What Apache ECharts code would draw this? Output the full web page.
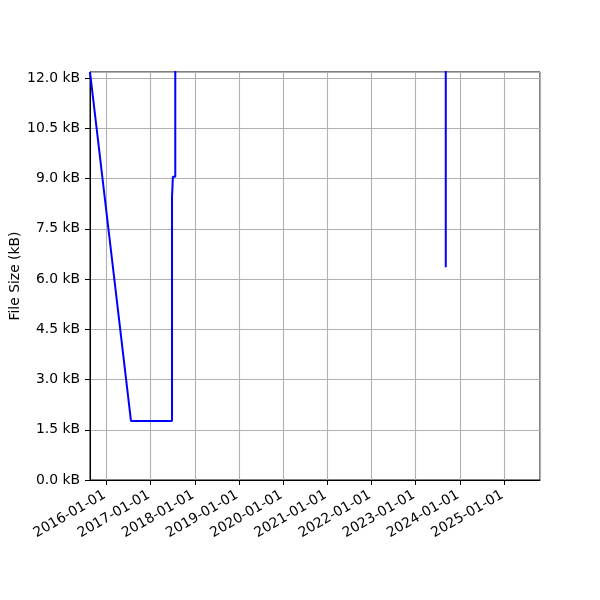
<!DOCTYPE html>
<html>
<head>
<meta charset="utf-8">
<script src="https://cdn.jsdelivr.net/npm/echarts@6/dist/echarts.min.js"></script>
<style>html,body{margin:0;padding:0;background:#fff;}#c{width:600px;height:600px;}</style>
</head>
<body>
<div id="c"></div>
<script>
// Dates of the file-size history
var dates = ['2015-08-19', '2016-07-23', '2017-06-27', '2017-06-27', '2017-07-04', '2017-07-04', '2017-07-24', '2017-07-24', '2023-09-07', '2023-09-07'];
// File size in kB (values above the visible range are clipped off the top)
var sizes = [12.18, 1.76, 1.76, 8.43, 8.43, 9.05, 9.05, 20.0, 20.0, 6.35];
// Axis ranges
var xRange = ['2015-08-19', '2025-10-25'];
var yRange = [0, 12.18];
var yStep = 1.5;

var FONT = 'DejaVu Sans';
var FS = 13.9;

var chart = echarts.init(document.getElementById('c'), null, {renderer: 'canvas'});
var data = dates.map(function (d, i) { return [d, sizes[i]]; });
var YEAR = 365 * 24 * 3600 * 1000;

chart.setOption({
  animation: false,
  useUTC: true,
  backgroundColor: '#ffffff',
  grid: {left: 90, right: 60, top: 72, bottom: 120, show: true, borderColor: '#000', borderWidth: 1, backgroundColor: 'transparent', containLabel: false, outerBoundsMode: 'none'},
  xAxis: {
    type: 'time',
    min: xRange[0],
    max: xRange[1],
    minInterval: YEAR,
    maxInterval: YEAR + 24 * 3600 * 1000,
    axisLine: {show: true, lineStyle: {color: '#000', width: 1}},
    axisTick: {show: true, length: 5, lineStyle: {color: '#000', width: 1}},
    splitLine: {show: true, lineStyle: {color: '#b0b0b0', width: 1.1}},
    axisLabel: {
      rotate: 30,
      margin: 13,
      padding: [0, 2, 0, 0],
      color: '#000',
      fontFamily: FONT,
      fontSize: FS,
      showMinLabel: false,
      showMaxLabel: false,
      hideOverlap: false,
      formatter: function (v) {
        var d = new Date(v);
        if (d.getUTCMonth() !== 0 || d.getUTCDate() !== 1) return '';
        return d.getUTCFullYear() + '-01-01';
      }
    }
  },
  yAxis: {
    type: 'value',
    min: yRange[0],
    max: yRange[1],
    interval: yStep,
    name: 'File Size (kB)',
    nameLocation: 'middle',
    nameRotate: 90,
    nameGap: 68,
    nameMoveOverlap: false,
    nameTextStyle: {color: '#000', fontFamily: FONT, fontSize: FS},
    axisLine: {show: true, lineStyle: {color: '#000', width: 1}},
    axisTick: {show: true, length: 5, lineStyle: {color: '#000', width: 1}},
    splitLine: {show: true, lineStyle: {color: '#b0b0b0', width: 1.1}},
    axisLabel: {
      color: '#000',
      fontFamily: FONT,
      fontSize: FS,
      margin: 10,
      showMaxLabel: false,
      formatter: function (v) { return v.toFixed(1) + ' kB'; }
    }
  },
  series: [{
    type: 'line',
    data: data,
    clip: true,
    showSymbol: false,
    symbol: 'none',
    lineStyle: {color: '#0000ff', width: 2},
    itemStyle: {color: '#0000ff'}
  }]
});
</script>
</body>
</html>
